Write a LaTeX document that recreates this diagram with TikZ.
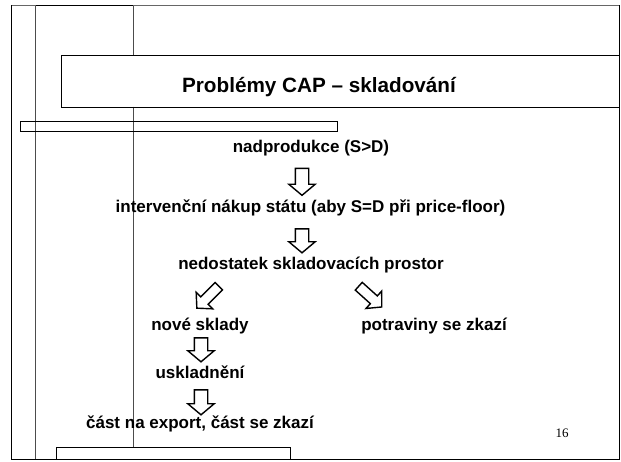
\documentclass[tikz,border=0pt]{standalone}
\usepackage{fontspec}
\setmainfont{Liberation Sans}
\newfontfamily\serifnum{Liberation Serif}
\usetikzlibrary{shapes.arrows}
\begin{document}
\begin{tikzpicture}[x=1pt,y=-1pt,
  lbl/.style={font=\fontsize{17}{20}\selectfont\bfseries, inner sep=0pt, anchor=base},
  ttl/.style={font=\fontsize{20.7}{25}\selectfont\bfseries, inner sep=0pt, anchor=base},
  downarrow/.style={single arrow, draw=black, line width=1.4pt, fill=white,
    inner xsep=0pt, inner ysep=6pt, minimum height=#1,
    single arrow head extend=6.5pt, single arrow tip angle=100,
    single arrow head indent=0pt, rotate=-90},
  diagarrow/.style={single arrow, draw=black, line width=1.4pt, fill=white,
    inner xsep=0pt, inner ysep=4.5pt, minimum height=31pt,
    single arrow head extend=6.5pt, single arrow tip angle=95,
    single arrow head indent=0pt, rotate=#1},
  thinline/.style={draw=black!70, line width=0.8pt},
  boxline/.style={draw=black, line width=0.8pt},
  frameline/.style={draw=black, line width=1.8pt},
]
\useasboundingbox (0,0) rectangle (621,461);
% frame
\draw[draw=black!60, line width=1.5pt] (11.5,5.5) -- (619.5,5.5);
\draw[frameline] (35.5,5.5) -- (133,5.5);
\draw[frameline] (11.5,5) -- (11.5,459.5) -- (619.5,459.5) -- (619.5,5);
% vertical lines
\draw[thinline] (35.5,5.5) -- (35.5,459);
\draw[thinline] (133,5.5) -- (133,55.5);
\draw[thinline] (133,106.5) -- (133,447);
% boxes
\draw[boxline] (61,55.5) rectangle (619.5,107);
\draw[boxline] (20,121) rectangle (337,131);
\draw[boxline] (56,459) -- (56,447) -- (290,447) -- (290,459);
% texts
\node[ttl] (title) at (319,92.3) {Problémy CAP – skladování};
\node[lbl] (n1) at (311,152.8) {nadprodukce (S>D)};
\node[lbl] (n2) at (310.5,212.3) {intervenční nákup státu (aby S=D při price-floor)};
\node[lbl] (n3) at (311,269.3) {nedostatek skladovacích prostor};
\node[lbl] (n4) at (200,330.3) {nové sklady};
\node[lbl] (n5) at (434,330.3) {potraviny se zkazí};
\node[lbl] (n6) at (200,378.3) {uskladnění};
\node[lbl] (n7) at (200,428) {část na export, část se zkazí};
\node[font=\serifnum\fontsize{13}{15}\selectfont, inner sep=0pt, anchor=base] (pg) at (562,437.5) {16};
% block arrows
\node[downarrow=27pt] (a1) at (302,179) {};
\node[downarrow=24pt] (a2) at (302,238) {};
\node[diagarrow=-135] (a3) at (209.5,295.5) {};
\node[diagarrow=-42] (a4) at (368.5,295) {};
\node[downarrow=24pt] (a5) at (201,347) {};
\node[downarrow=25pt] (a6) at (201,399.5) {};
\end{tikzpicture}
\end{document}
